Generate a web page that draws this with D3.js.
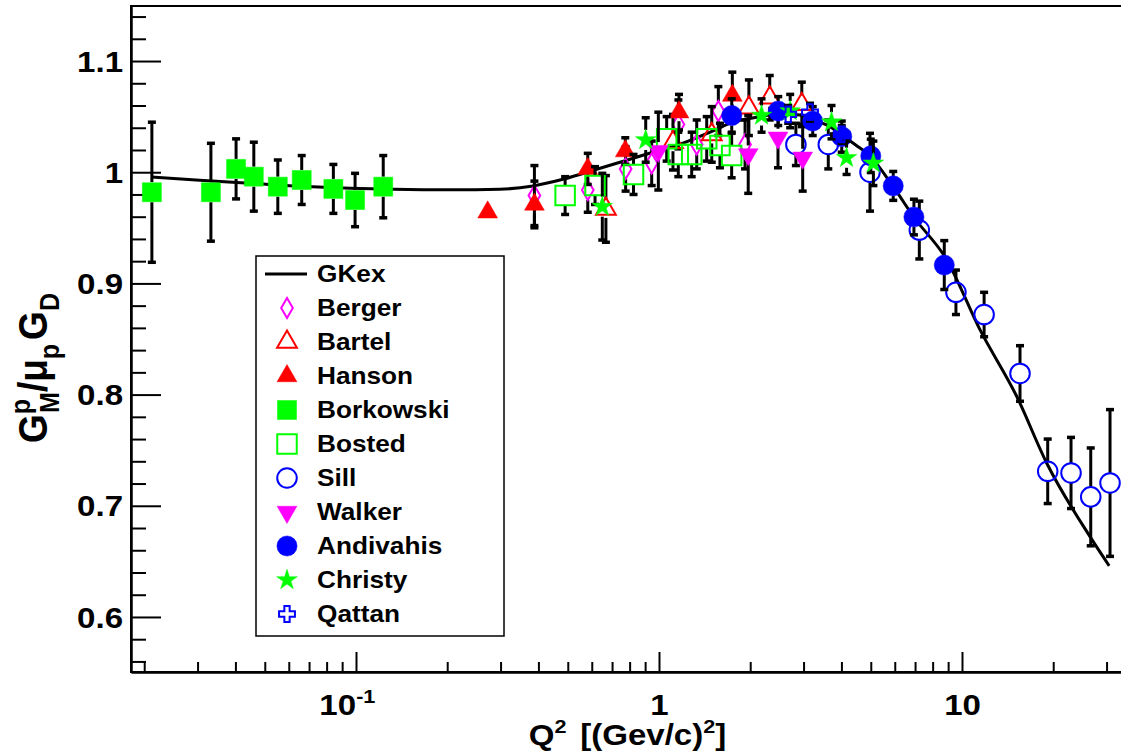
<!DOCTYPE html>
<html>
<head>
<meta charset="utf-8">
<script src="https://cdn.jsdelivr.net/npm/d3@7"></script>
<style>
body { margin: 0; background: #fff; }
text { font-family: "Liberation Sans", Arial, Helvetica, sans-serif; font-weight: bold; fill: #000; }
</style>
</head>
<body>
<div id="gmpDiv"></div>
<script>
let gkexQ2 = [0.0211, 0.0305, 0.0446, 0.0654, 0.0957, 0.1324, 0.2043, 0.2986, 0.384, 0.482, 0.623, 0.802, 0.955,
	1.173, 1.507, 1.755, 2.106, 2.507, 2.92, 3.22, 3.59, 4.02, 4.47, 4.98, 5.93, 6.94, 8.89, 11.45, 15.15, 19.01, 26.49, 30.6];
let gkexG = [0.9958, 0.9928, 0.9901, 0.9874, 0.9856, 0.9847, 0.9842, 0.9847, 0.9877, 0.9937, 1.0027, 1.0117, 1.018,
	1.0252, 1.0372, 1.045, 1.0495, 1.0523, 1.0514, 1.0468, 1.0423, 1.0333, 1.0243, 1.0144, 0.987, 0.9595, 0.9216, 0.8586, 0.7985, 0.7387, 0.672, 0.646];

let berger = [[0.388, 0.979, 0.027], [0.582, 0.984, 0.02], [0.776, 1.003, 0.02], [0.946, 1.008, 0.02],
	[1.159, 1.043, 0.022], [1.332, 1.025, 0.022], [1.57, 1.055, 0.022], [1.923, 1.025, 0.022]];
let bartel = [[0.668, 0.967, 0.03], [1.112, 1.027, 0.025], [1.493, 1.034, 0.025], [1.98, 1.058, 0.025],
	[2.32, 1.067, 0.02], [2.96, 1.061, 0.02]];
let hanson = [[0.272, 0.964, 0.007], [0.388, 0.971, 0.021], [0.582, 1.003, 0.014], [0.774, 1.019, 0.012],
	[1.164, 1.054, 0.016], [1.746, 1.069, 0.021]];
let borkowski = [[0.0212, 0.982, 0.063], [0.0332, 0.982, 0.044], [0.0402, 1.003, 0.027], [0.046, 0.996, 0.031],
	[0.0552, 0.987, 0.024], [0.0662, 0.993, 0.022], [0.0842, 0.985, 0.022], [0.0993, 0.975, 0.024], [0.123, 0.987, 0.028]];
let bosted = [[0.49, 0.979, 0.017], [0.615, 0.988, 0.017], [0.824, 0.998, 0.018], [1.06, 1.030, 0.02],
	[1.158, 1.016, 0.02], [1.282, 1.016, 0.02], [1.437, 1.030, 0.02], [1.589, 1.024, 0.02], [1.737, 1.015, 0.02]];
let sill = [[2.83, 1.025, 0.019], [3.62, 1.025, 0.022], [4.97, 1.0, 0.035], [7.23, 0.948, 0.026], [9.55, 0.892, 0.02],
	[11.83, 0.872, 0.02], [15.54, 0.819, 0.025], [19.18, 0.731, 0.029], [22.9, 0.7295, 0.032], [26.6, 0.708, 0.044], [30.8, 0.7205, 0.066]];
let walker = [[0.995, 1.019, 0.035], [1.97, 1.016, 0.035], [2.47, 1.031, 0.027], [2.98, 1.013, 0.03]];
let andivahis = [[1.738, 1.051, 0.015], [2.475, 1.055, 0.013], [3.216, 1.046, 0.013], [4.01, 1.032, 0.014],
	[5.0, 1.0147, 0.015], [5.93, 0.9877, 0.013], [6.94, 0.9597, 0.016], [8.74, 0.9165, 0.022]];
let christy = [[0.65, 0.969, 0.03], [0.904, 1.029, 0.02], [2.18, 1.051, 0.015], [2.71, 1.055, 0.015],
	[3.71, 1.045, 0.015], [4.16, 1.013, 0.015], [5.1, 1.008, 0.02]];
let qattan = [[2.67, 1.052, 0.008], [3.15, 1.054, 0.008], [4.01, 1.034, 0.008]];

let curveName = "GKex";
let seriesNames = ["Berger", "Bartel", "Hanson", "Borkowski", "Bosted", "Sill", "Walker", "Andivahis", "Christy", "Qattan"];
let seriesData = [berger, bartel, hanson, borkowski, bosted, sill, walker, andivahis, christy, qattan];

let xDomain = [0.01809, 34.25];
let yDomain = [0.5505, 1.1495];
let xMajorTicks = [0.1, 1, 10];
let yMajorTicks = [0.6, 0.7, 0.8, 0.9, 1, 1.1];
let yTickLabels = ["0.6", "0.7", "0.8", "0.9", "1", "1.1"];

// marker look per data set (ROOT style markers)
let markerStyle = {
	"Berger":    {type: d3.symbolDiamond,  size: 118, color: "#ff00ff", open: true,  half: 10},
	"Bartel":    {type: d3.symbolTriangle, size: 170, color: "#ff0000", open: true,  half: 9},
	"Hanson":    {type: d3.symbolTriangle, size: 170, color: "#ff0000", open: false, half: 9},
	"Borkowski": {type: d3.symbolSquare,   size: 361, color: "#00ff00", open: false, half: 10},
	"Bosted":    {type: d3.symbolSquare,   size: 380, color: "#00ff00", open: true,  half: 10},
	"Sill":      {type: d3.symbolCircle,   size: 300, color: "#0000ff", open: true,  half: 10},
	"Walker":    {type: d3.symbolTriangle, size: 170, color: "#ff00ff", open: false, half: 9, flip: true},
	"Andivahis": {type: d3.symbolCircle,   size: 320, color: "#0000ff", open: false, half: 10},
	"Christy":   {type: d3.symbolStar,     size: 130, color: "#00ff00", open: false, half: 10},
	"Qattan":    {type: d3.symbolCross,    size: 140, color: "#0000ff", open: true,  half: 8}
};

let stretch = 1.14; // the ROOT picture is a bit wider than tall

function drawChart(){
	let svgWidth = 1121, svgHeight = 755;
	let left = 131, right = 1124, top = 6, bottom = 672;

	let svg = d3.select("#gmpDiv")
		.append("svg")
		.attr("width", svgWidth)
		.attr("height", svgHeight)
		.attr("id", "gmpSVG");

	let xScale = d3.scaleLog()
		.domain(xDomain)
		.range([left, right]);

	let yScale = d3.scaleLinear()
		.domain(yDomain)
		.range([bottom, top]);

	// frame
	svg.append("rect")
		.attr("x", left).attr("y", top)
		.attr("width", right - left).attr("height", bottom - top)
		.attr("fill", "none")
		.attr("stroke", "#000")
		.attr("stroke-width", 2);

	// x axis, ticks pointing inside
	let xMinor = xScale.ticks().filter(function(t){ return xMajorTicks.indexOf(t) < 0; });

	let xAxisMinor = d3.axisBottom(xScale)
		.tickValues(xMinor)
		.tickSizeInner(-10)
		.tickSizeOuter(0)
		.tickFormat("");
	let xAxisMajor = d3.axisBottom(xScale)
		.tickValues(xMajorTicks)
		.tickSizeInner(-20)
		.tickSizeOuter(0)
		.tickFormat(function(d){ return d == 0.1 ? "10" : d3.format("d")(d); });

	svg.append("g")
		.attr("transform", "translate(0," + bottom + ")")
		.call(xAxisMinor);
	let xg = svg.append("g")
		.attr("transform", "translate(0," + bottom + ")")
		.call(xAxisMajor);

	// y axis
	let yMinor = yScale.ticks(30).filter(function(t){
		return yMajorTicks.every(function(m){ return Math.abs(m - t) > 1e-6; });
	});
	let yAxisMinor = d3.axisLeft(yScale)
		.tickValues(yMinor)
		.tickSizeInner(-15)
		.tickSizeOuter(0)
		.tickFormat("");
	let yAxisMajor = d3.axisLeft(yScale)
		.tickValues(yMajorTicks)
		.tickSizeInner(-30)
		.tickSizeOuter(0)
		.tickFormat(function(d, i){ return yTickLabels[i]; });

	svg.append("g")
		.attr("transform", "translate(" + left + ",0)")
		.call(yAxisMinor);
	let yg = svg.append("g")
		.attr("transform", "translate(" + left + ",0)")
		.call(yAxisMajor);

	svg.selectAll(".domain").attr("stroke-width", 2);
	svg.selectAll(".tick line").attr("stroke-width", 2);

	yg.selectAll("text")
		.attr("font-size", 29)
		.attr("x", -7)
		.attr("dy", "0.35em")
		.attr("transform", "scale(" + stretch + ",1)");

	xg.selectAll("text")
		.attr("font-size", 29)
		.attr("y", 43)
		.attr("dy", 0)
		.attr("transform", "scale(" + stretch + ",1)")
		.each(function(d){
			if(d == 0.1){
				d3.select(this).attr("x", -8);
				d3.select(this).append("tspan")
					.attr("font-size", 19)
					.attr("dy", -12)
					.text("-1");
			}
		});

	// axis titles
	let xt = svg.append("text")
		.attr("text-anchor", "middle")
		.attr("font-size", 29)
		.attr("transform", "translate(" + ((left + right) / 2) + ",745) scale(" + stretch + ",1)");
	xt.append("tspan").text("Q");
	xt.append("tspan").attr("font-size", 19).attr("dy", -12).text("2");
	xt.append("tspan").attr("dy", 12).attr("dx", 4).text(" [(Gev/c)");
	xt.append("tspan").attr("font-size", 19).attr("dy", -12).text("2");
	xt.append("tspan").attr("dy", 12).text("]");

	let yt = svg.append("text")
		.attr("text-anchor", "middle")
		.attr("font-size", 37)
		.attr("transform", "translate(47,368) rotate(-90) scale(1,1.08)");
	yt.append("tspan").text("G");
	yt.append("tspan").attr("font-size", 25).attr("dy", -16).text("p");
	yt.append("tspan").attr("font-size", 25).attr("dx", -14).attr("dy", 27).text("M");
	yt.append("tspan").attr("dy", -11).text("/\u03bc");
	yt.append("tspan").attr("font-size", 25).attr("dy", 11).text("p");
	yt.append("tspan").attr("dy", -11).attr("dx", 4).text("G");
	yt.append("tspan").attr("font-size", 25).attr("dy", 11).text("D");

	// GKex curve
	let curvePoints = gkexQ2.map(function(q, i){ return [q, gkexG[i]]; });
	let valueline = d3.line()
		.x(function(d){ return xScale(d[0]); })
		.y(function(d){ return yScale(d[1]); })
		.curve(d3.curveMonotoneX);

	svg.append("path")
		.datum(curvePoints)
		.attr("d", valueline)
		.attr("fill", "none")
		.attr("stroke", "#000")
		.attr("stroke-width", 3);

	// data sets with error bars
	for(let s = 0; s < seriesNames.length; s++){
		let st = markerStyle[seriesNames[s]];
		let g = svg.append("g").attr("class", "series");
		seriesData[s].forEach(function(d){
			let cx = xScale(d[0]), cy = yScale(d[1]);
			let yUp = yScale(d[1] + d[2]), yDown = yScale(d[1] - d[2]);
			if(cy - yUp > st.half){
				g.append("line").attr("x1", cx).attr("x2", cx).attr("y1", cy - st.half).attr("y2", yUp)
					.attr("stroke", "#000").attr("stroke-width", 3);
				g.append("line").attr("x1", cx - 4).attr("x2", cx + 4).attr("y1", yUp).attr("y2", yUp)
					.attr("stroke", "#000").attr("stroke-width", 3.5);
			}
			if(yDown - cy > st.half){
				g.append("line").attr("x1", cx).attr("x2", cx).attr("y1", cy + st.half).attr("y2", yDown)
					.attr("stroke", "#000").attr("stroke-width", 3);
				g.append("line").attr("x1", cx - 4).attr("x2", cx + 4).attr("y1", yDown).attr("y2", yDown)
					.attr("stroke", "#000").attr("stroke-width", 3.5);
			}
		});
		g.selectAll("path.marker")
			.data(seriesData[s])
			.enter().append("path")
			.attr("class", "marker")
			.attr("d", d3.symbol().type(st.type).size(st.size))
			.attr("transform", function(d){
				return "translate(" + xScale(d[0]) + "," + yScale(d[1]) + ")" + (st.flip ? " rotate(180)" : "");
			})
			.attr("fill", st.open ? "none" : st.color)
			.attr("stroke", st.color)
			.attr("stroke-width", st.open ? 2 : 0.5);
	}

	// legend
	let lx = 256, ly = 256, rowH = 34;
	let legend = svg.append("g");
	legend.append("rect")
		.attr("x", lx).attr("y", ly)
		.attr("width", 248).attr("height", 380)
		.attr("fill", "#fff")
		.attr("stroke", "#000")
		.attr("stroke-width", 1.5);

	let names = [curveName].concat(seriesNames);
	names.forEach(function(name, i){
		let rowY = ly + 18 + i * rowH;
		if(i == 0){
			legend.append("line")
				.attr("x1", lx + 9).attr("x2", lx + 51)
				.attr("y1", rowY).attr("y2", rowY)
				.attr("stroke", "#000").attr("stroke-width", 3);
		} else {
			let st = markerStyle[name];
			legend.append("path")
				.attr("d", d3.symbol().type(st.type).size(st.size))
				.attr("transform", "translate(" + (lx + 31) + "," + rowY + ")" + (st.flip ? " rotate(180)" : ""))
				.attr("fill", st.open ? "none" : st.color)
				.attr("stroke", st.color)
				.attr("stroke-width", st.open ? 2 : 0.5);
		}
		legend.append("text")
			.attr("font-size", 23)
			.attr("transform", "translate(" + (lx + 61) + "," + (rowY + 8) + ") scale(" + stretch + ",1)")
			.text(name);
	});
}

drawChart();
</script>
</body>
</html>
